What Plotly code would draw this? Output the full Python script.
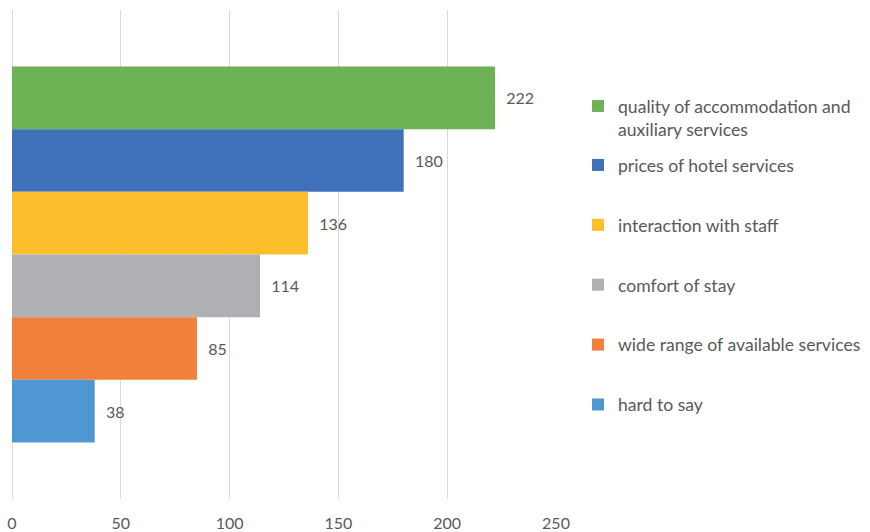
import plotly.graph_objects as go

categories = ["quality of accommodation and<br>auxiliary services",
              "prices of hotel services",
              "interaction with staff",
              "comfort of stay",
              "wide range of available services",
              "hard to say"]
values = [222, 180, 136, 114, 85, 38]
colors = ["#6DB254", "#3F70BA", "#FDBE2C", "#AFB0B3", "#F0803C", "#4F97D3"]
tick_vals = [0, 50, 100, 150, 200, 250]

FONT = "Lato"
TXT = "#595959"

fig = go.Figure()
for i, (name, v, c) in enumerate(zip(categories, values, colors)):
    fig.add_trace(go.Bar(
        y=[""], x=[v], name=name, orientation="h",
        marker=dict(color=c, line=dict(width=0)),
        text=[v], texttemplate="\u00a0\u00a0%{x}", textposition="outside",
        textfont=dict(family=FONT, size=16, color=TXT),
        cliponaxis=False,
        legendgroup=name,
        legend="legend" if i == 0 else "legend2",
    ))

ML, MR, MT, MB = 12, 314, 10, 33
W, H = 870, 532
plot_w = W - ML - MR
plot_h = H - MT - MB
def px_x(x):
    return (x - ML) / plot_w
def px_y(y):
    return (H - MB - y) / plot_h

fig.update_layout(
    width=W, height=H,
    margin=dict(l=ML, r=MR, t=MT, b=MB, autoexpand=False),
    plot_bgcolor="white", paper_bgcolor="white",
    barmode="group", bargap=0.231, bargroupgap=0,
    font=dict(family=FONT, size=16, color=TXT),
    showlegend=True,
    legend=dict(x=px_x(578), y=px_y(88), xanchor="left", yanchor="top",
                font=dict(family=FONT, size=17.6, color=TXT),
                valign="top", bgcolor="rgba(0,0,0,0)"),
    legend2=dict(x=px_x(578), y=px_y(147), xanchor="left", yanchor="top",
                 font=dict(family=FONT, size=17.6, color=TXT),
                 tracegroupgap=34, valign="top", bgcolor="rgba(0,0,0,0)"),
)

fig.update_xaxes(range=[0, 250], tickvals=tick_vals, showgrid=True,
                 gridcolor="#D9D9D9", gridwidth=1, zeroline=True,
                 zerolinecolor="#D9D9D9", zerolinewidth=1,
                 showline=False, ticks="", tickfont=dict(size=16, color=TXT),
                 ticklabelstandoff=13, ticklabeloverflow="allow",
                 automargin=False, fixedrange=True)
fig.update_yaxes(autorange="reversed", showticklabels=False, showgrid=False,
                 zeroline=False, showline=False, ticks="", automargin=False,
                 fixedrange=True)

fig.write_html("out.html",
               config={"displayModeBar": False},
               post_script="document.body.style.margin='0';"
                           "document.body.style.overflow='hidden';")
